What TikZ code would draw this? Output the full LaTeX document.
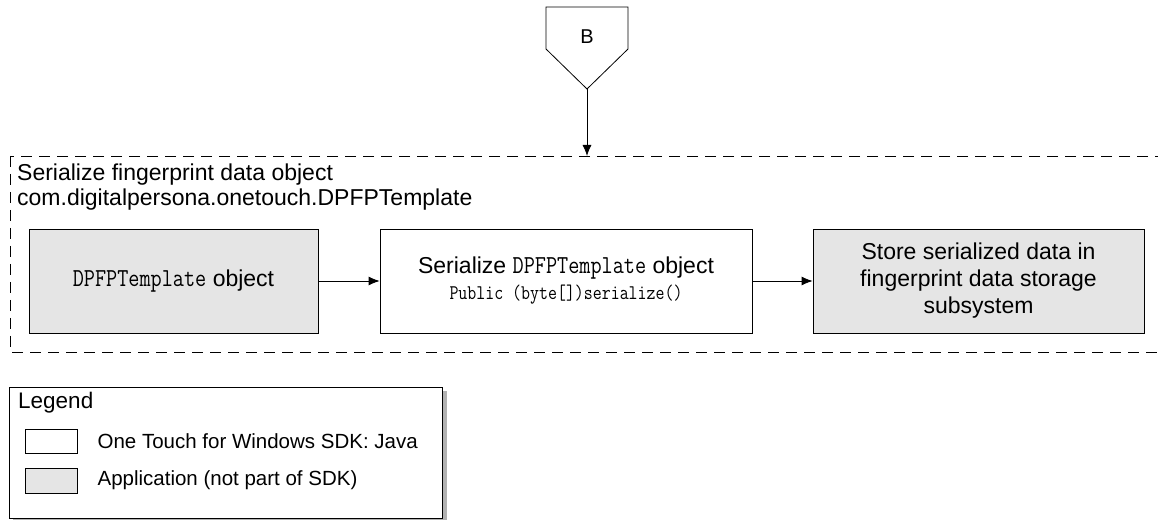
\documentclass[tikz,border=0pt]{standalone}
\usepackage{fontspec}
\setmainfont{Liberation Sans}
\usetikzlibrary{arrows.meta,positioning}

\begin{document}
\begin{tikzpicture}[x=1pt, y=1pt,
    font=\fontsize{23}{27}\selectfont,
    arr/.style={-{Latex[length=11pt,width=9pt]}, line width=0.8pt},
    sdkbox/.style={draw, line width=0.8pt, fill=white, align=center, inner sep=0pt},
    appbox/.style={sdkbox, fill=gray!20},
    keytext/.style={anchor=west, inner sep=0pt, font=\fontsize{20.5}{24}\selectfont}]
    % Fix the picture size to the reference
    \useasboundingbox (0,0) rectangle (1158,519);
    \def\boxh{104}
    \def\code#1{\scalebox{1}[1.2]{\fontsize{21.6}{27}\selectfont\texttt{#1}}}

    % Off-page connector B
    \draw[line width=0.8pt] (546,512) -- (628,512) -- (628,470) -- (587,430) -- (546,470) -- cycle;
    \coordinate (btip) at (587,430);
    \node[font=\fontsize{20}{24}\selectfont] (B) at (587,482) {B};

    % Dashed group (runs off the right edge)
    \draw[dashed, dash pattern=on 11pt off 7pt, line width=0.8pt] (10,363) rectangle (1175,167);
    \coordinate (grouptop) at (587,363);
    \node[anchor=west, align=left, inner sep=0pt, font=\fontsize{23}{25}\selectfont] (title) at (17,331.5)
        {Serialize fingerprint data object\\com.digitalpersona.onetouch.DPFPTemplate};
    \draw[arr] (btip) -- (grouptop);

    % The three steps
    \node[appbox, minimum width=289pt, minimum height=\boxh pt] (tmpl) at (173.5,238)
        {\code{DPFPTemplate} object};
    \node[sdkbox, minimum width=372pt, minimum height=\boxh pt] (ser) at (566,238)
        {Serialize \code{DPFPTemplate} object\\[-1pt]
         \scalebox{1}[1.2]{\fontsize{17.4}{20}\selectfont\texttt{Public (byte[])serialize()}}};
    \node[appbox, minimum width=331pt, minimum height=\boxh pt] (store) at (978.5,238)
        {Store serialized data in\\fingerprint data storage\\subsystem};
    \draw[arr] (tmpl) -- (ser);
    \draw[arr] (ser) -- (store);

    % Legend with its shadow
    \fill[gray!60] (13,128) rectangle (447,-4);
    \draw[line width=0.8pt, fill=white] (9,132) rectangle (442,1);
    \node[anchor=west, inner sep=0pt, font=\fontsize{22.5}{26}\selectfont] (legend) at (18,116) {Legend};
    \node[sdkbox, minimum width=52pt, minimum height=24pt] (keysdk) at (51,78) {};
    \node[appbox, minimum width=52pt, minimum height=25pt] (keyapp) at (51,38.5) {};
    \node[keytext, right=20pt of keysdk] (txtsdk) {One Touch for Windows SDK: Java};
    \node[keytext, right=20pt of keyapp] (txtapp) {Application (not part of SDK)};
\end{tikzpicture}
\end{document}
